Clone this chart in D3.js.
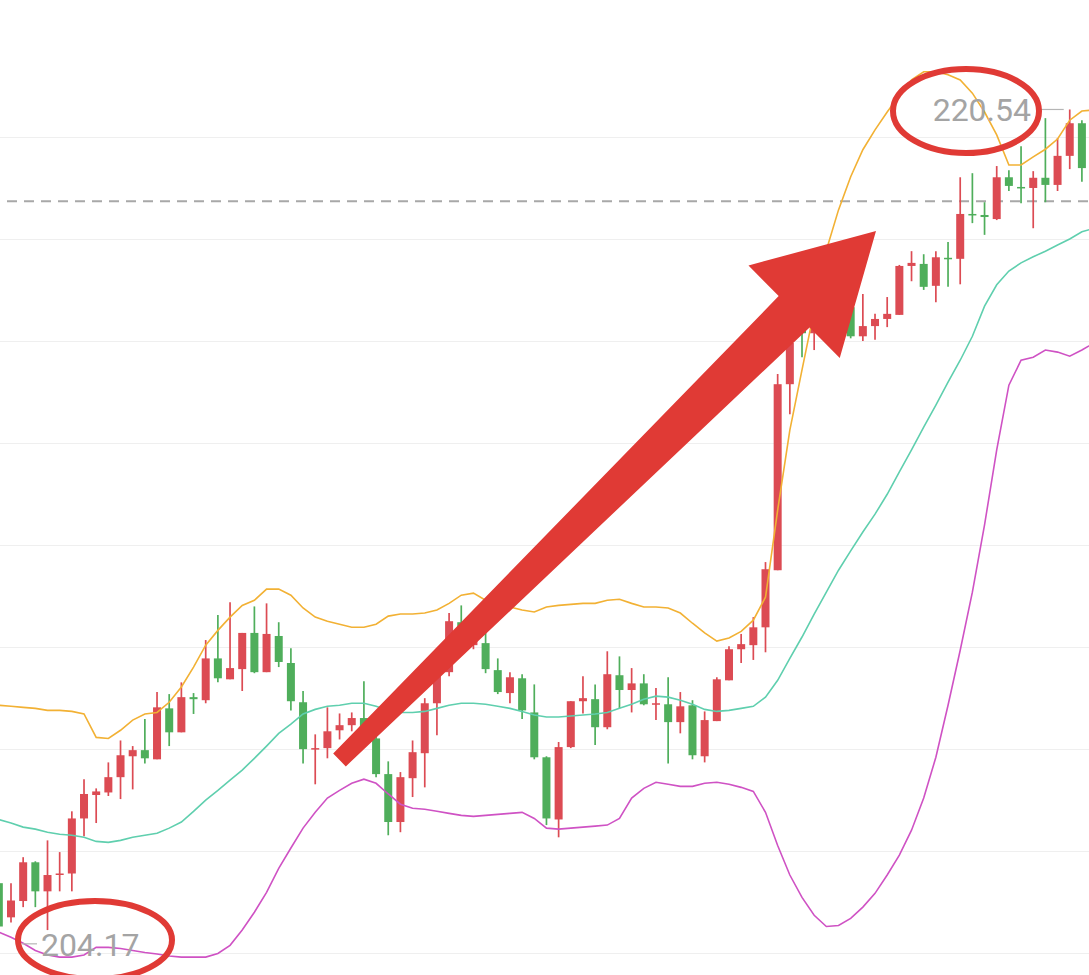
<!DOCTYPE html>
<html><head><meta charset="utf-8">
<script src="https://cdn.jsdelivr.net/npm/d3@7/dist/d3.min.js"></script>
<style>html,body{margin:0;padding:0;background:#fff;overflow:hidden}</style>
</head><body>
<svg id="c" width="1089" height="975"></svg>
<script>
// candle index (first candle is partially cut at the left edge)
const candleIndex = d3.range(-1, 89);
const bandIndex = d3.range(-1, 90);
const openPrices = [205.36,204.69,205.01,205.77,205.20,205.54,205.55,206.63,207.09,207.14,207.44,207.85,207.97,207.79,208.79,208.32,209.01,208.95,209.77,209.36,209.56,210.27,209.50,210.21,209.68,208.91,207.99,208.01,208.36,208.46,208.60,208.20,207.50,206.56,207.42,207.91,208.89,209.50,210.48,210.03,210.07,209.54,209.09,209.38,208.71,207.83,206.61,208.03,208.93,208.97,208.42,209.44,209.15,209.28,208.87,208.87,208.52,208.85,207.85,208.54,209.34,209.95,210.03,210.38,211.50,215.15,216.45,216.15,216.57,216.21,216.66,216.09,216.29,216.43,216.51,217.47,217.51,217.08,217.63,217.61,218.49,218.47,218.39,219.21,219.02,219.00,219.20,219.06,219.63,220.27];
const highPrices = [205.46,205.36,205.87,205.79,206.20,205.97,206.77,207.40,207.22,207.73,208.16,208.05,208.58,209.11,209.07,209.30,209.09,210.13,210.62,210.87,210.27,210.79,210.85,210.48,209.97,209.13,208.28,208.81,208.69,208.71,209.32,208.30,207.75,207.54,208.16,208.99,209.58,210.66,210.81,210.36,210.27,209.77,209.50,209.46,209.26,207.85,208.13,208.93,209.42,209.26,209.91,209.81,209.58,209.46,209.19,209.40,209.11,208.95,208.73,209.40,210.01,210.25,210.58,211.66,215.35,216.11,216.70,216.80,216.80,216.84,216.80,216.92,216.53,216.86,217.49,217.76,217.70,217.76,217.94,219.21,219.29,218.72,219.43,219.35,219.82,219.33,220.37,219.98,220.54,220.33];
const lowPrices = [204.17,204.59,204.89,204.89,204.44,205.20,205.20,206.28,206.54,207.07,207.01,207.20,207.71,207.79,208.05,208.32,208.68,208.89,209.30,209.36,209.13,209.48,209.50,209.60,208.75,207.71,207.30,207.81,208.18,208.34,208.07,207.44,206.30,206.36,207.05,207.24,208.26,209.42,209.97,209.95,209.48,209.07,208.89,208.58,207.79,206.50,206.26,208.01,208.69,208.07,208.38,208.79,208.71,208.85,208.56,207.71,208.30,207.79,207.73,208.54,209.34,209.68,209.74,209.89,211.50,214.56,215.68,215.82,216.05,216.02,216.05,216.00,216.02,216.27,216.51,217.17,217.00,216.76,217.06,217.11,218.31,218.08,218.37,218.94,218.70,218.21,218.72,218.94,219.37,219.12];
const closePrices = [204.51,205.02,205.77,205.20,205.52,205.55,206.63,207.11,207.16,207.44,207.87,207.97,207.81,208.81,208.32,209.01,208.97,209.77,209.38,209.58,210.27,209.50,210.25,209.70,208.93,207.99,208.01,208.34,208.46,208.60,208.20,207.50,206.56,207.44,207.93,208.89,209.50,210.50,210.13,210.21,209.56,209.11,209.40,208.75,207.83,206.63,208.03,208.93,208.99,208.42,209.46,209.15,209.28,208.87,208.89,208.52,208.83,207.87,208.56,209.36,209.95,210.05,210.38,211.52,215.15,215.96,216.15,216.57,216.31,216.64,216.09,216.29,216.43,216.53,217.47,217.53,217.06,217.64,217.61,218.49,218.47,218.43,219.21,219.04,219.00,219.20,219.06,219.63,220.27,219.39];
const upperBand = [208.85,208.83,208.81,208.79,208.75,208.75,208.73,208.68,208.22,208.20,208.36,208.56,208.68,208.71,208.91,209.21,209.60,210.03,210.32,210.58,210.81,210.91,211.13,211.13,211.01,210.76,210.58,210.50,210.44,210.38,210.38,210.44,210.60,210.64,210.64,210.66,210.72,210.85,211.01,211.05,210.91,210.81,210.78,210.72,210.68,210.78,210.81,210.83,210.85,210.85,210.91,210.93,210.85,210.78,210.78,210.76,210.66,210.46,210.27,210.11,210.17,210.30,210.52,210.97,212.68,214.25,215.43,216.60,217.78,218.57,219.22,219.75,220.14,220.49,220.82,221.12,221.28,221.28,221.22,221.12,220.86,220.49,220.04,219.45,219.45,219.61,219.76,219.96,220.33,220.51,220.53];
const middleBand = [206.61,206.54,206.46,206.42,206.36,206.32,206.30,206.26,206.18,206.16,206.20,206.26,206.30,206.34,206.44,206.56,206.77,206.99,207.18,207.38,207.58,207.81,208.05,208.30,208.48,208.68,208.77,208.83,208.85,208.89,208.89,208.83,208.75,208.71,208.71,208.73,208.79,208.85,208.89,208.89,208.87,208.83,208.79,208.73,208.66,208.62,208.62,208.64,208.66,208.68,208.71,208.79,208.87,208.97,209.03,209.01,208.95,208.87,208.77,208.73,208.75,208.79,208.83,209.01,209.34,209.77,210.19,210.64,211.07,211.50,211.88,212.25,212.60,212.99,213.43,213.86,214.31,214.74,215.19,215.62,216.09,216.68,217.10,217.37,217.53,217.65,217.76,217.88,218.00,218.14,218.21];
const lowerBand = [204.40,204.30,204.18,204.04,203.95,203.91,203.91,203.95,204.10,204.10,204.08,204.04,204.00,203.97,203.93,203.91,203.91,203.91,203.98,204.14,204.44,204.79,205.18,205.65,206.05,206.44,206.75,207.03,207.18,207.32,207.40,207.32,207.11,206.91,206.83,206.81,206.77,206.73,206.69,206.67,206.69,206.71,206.73,206.75,206.63,206.44,206.42,206.44,206.46,206.48,206.50,206.63,207.03,207.22,207.34,207.30,207.26,207.26,207.32,207.34,207.30,207.24,207.16,206.75,206.10,205.52,205.08,204.73,204.51,204.53,204.67,204.89,205.16,205.52,205.91,206.40,207.03,207.83,208.85,209.93,211.07,212.39,213.86,215.13,215.62,215.68,215.82,215.78,215.70,215.82,215.96];
const gridTicks = [204, 206, 208, 210, 212, 214, 216, 218, 220];
const lastPriceLine = 218.74;
const maxLabel = "220.54", maxValue = 220.54, maxIndex = 87;
const minLabel = "204.17", minValue = 204.17, minIndex = -1;

const W = 1089, H = 975;
const svg = d3.select('#c');
const x = d3.scaleLinear().domain([0, 88]).range([11, 1081.9]);
const y = d3.scaleLinear().domain([204, 220]).range([952.5, 137]);
const UP = '#dc4b53', DOWN = '#4fae5b';

// grid
svg.append('g').selectAll('line').data(gridTicks).join('line')
  .attr('x1', 0).attr('x2', W)
  .attr('y1', d => Math.round(y(d)) + 0.5).attr('y2', d => Math.round(y(d)) + 0.5)
  .attr('stroke', '#efefef').attr('stroke-width', 1);

// last price dashed line
svg.append('line').attr('x1', 7).attr('x2', W)
  .attr('y1', y(lastPriceLine)).attr('y2', y(lastPriceLine))
  .attr('stroke', '#a8a8a8').attr('stroke-width', 2).attr('stroke-dasharray', '10,7');

// candles
const candles = candleIndex.map((idx, k) => ({idx, o: openPrices[k], h: highPrices[k], l: lowPrices[k], c: closePrices[k]}));
const cg = svg.append('g');
const g = cg.selectAll('g').data(candles).join('g');
g.append('line')
  .attr('x1', d => x(d.idx)).attr('x2', d => x(d.idx))
  .attr('y1', d => y(d.h)).attr('y2', d => y(d.l))
  .attr('stroke', d => d.c >= d.o ? UP : DOWN).attr('stroke-width', 1.7);
g.append('rect')
  .attr('x', d => x(d.idx) - 4).attr('width', 8)
  .attr('y', d => y(Math.max(d.o, d.c)))
  .attr('height', d => Math.max(1.5, Math.abs(y(d.o) - y(d.c))))
  .attr('fill', d => d.c >= d.o ? UP : DOWN);

// bands
const line = d3.line().x(d => x(d[0])).y(d => y(d[1]));
[[upperBand, '#f2b134'], [middleBand, '#5fcfae'], [lowerBand, '#cf52c4']].forEach(([arr, col]) => {
  svg.append('path').datum(bandIndex.map((i, k) => [i, arr[k]]))
    .attr('d', line).attr('fill', 'none').attr('stroke', col).attr('stroke-width', 1.6);
});

// max / min labels
svg.append('line').attr('x1', 1040).attr('x2', x(maxIndex) - 6)
  .attr('y1', y(maxValue)).attr('y2', y(maxValue)).attr('stroke', '#b5b5b5').attr('stroke-width', 1.2);
svg.append('text').attr('x', 1031).attr('y', y(maxValue) + 12).attr('text-anchor', 'end')
  .attr('font-family', 'Roboto, sans-serif').attr('font-size', 32).attr('fill', '#a4a4a4').text(maxLabel);
svg.append('line').attr('x1', 22).attr('x2', 37)
  .attr('y1', y(minValue)).attr('y2', y(minValue)).attr('stroke', '#b5b5b5').attr('stroke-width', 1.2);
svg.append('text').attr('x', 41).attr('y', y(minValue) + 12)
  .attr('font-family', 'Roboto, sans-serif').attr('font-size', 32).attr('fill', '#a4a4a4').text(minLabel);

// annotation arrow
const RED = '#e03a35';
const T = [876, 231], tail = [339.5, 760];
const dx = T[0] - tail[0], dy = T[1] - tail[1], len = Math.hypot(dx, dy);
const u = [dx / len, dy / len], n = [-u[1], u[0]];
const P = (base, a, b) => [base[0] + u[0] * a + n[0] * b, base[1] + u[1] * a + n[1] * b];
const headLen = 115, barb = 65, neck = 22, tailW = 9;
const pts = [P(tail, 0, -tailW), P(T, -headLen, -neck), P(T, -headLen, -barb), T,
             P(T, -headLen, barb), P(T, -headLen, neck), P(tail, 0, tailW)];
svg.append('path').attr('d', 'M' + pts.map(p => p.join(',')).join('L') + 'Z').attr('fill', RED);

// annotation ellipses
svg.append('ellipse').attr('cx', 966).attr('cy', 111).attr('rx', 73).attr('ry', 42)
  .attr('fill', 'none').attr('stroke', RED).attr('stroke-width', 6);
svg.append('ellipse').attr('cx', 95).attr('cy', 940).attr('rx', 77).attr('ry', 39)
  .attr('fill', 'none').attr('stroke', RED).attr('stroke-width', 6);
</script>
</body></html>
